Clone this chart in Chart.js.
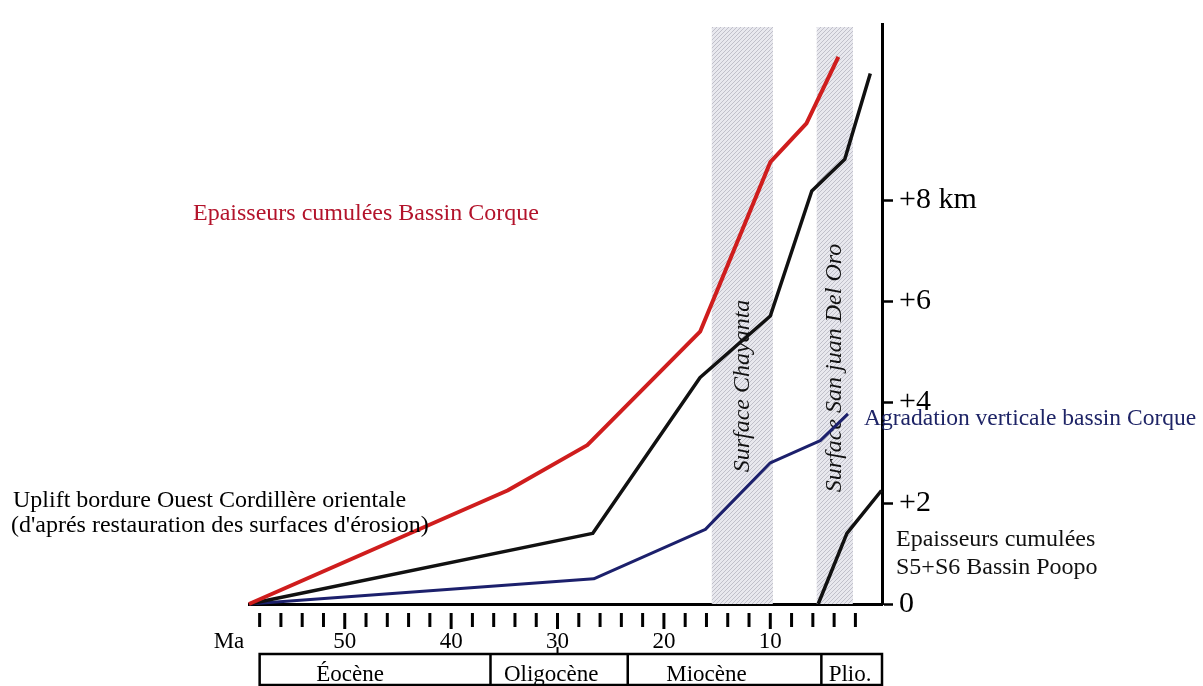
<!DOCTYPE html>
<html>
<head>
<meta charset="utf-8">
<script src="https://cdn.jsdelivr.net/npm/chart.js@4.4.0/dist/chart.umd.min.js"></script>
<style>
  html, body { margin: 0; padding: 0; background: #fff; }
  .chart { width: 1203px; height: 686px; position: relative; }
</style>
</head>
<body>
<div class="chart"><canvas id="myChart"></canvas></div>
<script>
// age in Ma (x axis, reversed) / km (y axis)
const corqueAges = [59, 34.7, 27.2, 16.6, 10.0, 6.6, 3.6];
const corqueKm = [0, 2.25, 3.15, 5.4, 8.76, 9.53, 10.85];

const upliftAges = [59, 26.7, 16.6, 10.0, 6.1, 3.0, 0.6];
const upliftKm = [0, 1.4, 4.49, 5.71, 8.19, 8.82, 10.52];

const agradAges = [59, 26.6, 16.1, 10.0, 5.3, 2.7];
const agradKm = [0, 0.5, 1.48, 2.8, 3.24, 3.77];

const poopoAges = [5.5, 2.8, -0.45];
const poopoKm = [0, 1.4, 2.25];

const xTicks = [58, 56, 54, 52, 50, 48, 46, 44, 42, 40, 38, 36, 34, 32, 30, 28, 26, 24, 22, 20, 18, 16, 14, 12, 10, 8, 6, 4, 2];
const xLabels = [50, 40, 30, 20, 10];
const yTicks = [0, 2, 4, 6, 8];
const yTickLabels = ["0", "+2", "+4", "+6", "+8 km"];

const epochs = ["Éocène", "Oligocène", "Miocène", "Plio."];
const epochBounds = [58, 36.3, 23.4, 5.2, -0.5];
const epochLabelAt = [49.5, 30.6, 16, 2.5];

const surfaces = ["Surface Chayanta", "Surface San juan Del Oro"];
const surfaceRanges = [[15.5, 9.75], [5.64, 2.23]];
const surfaceLabelY = [386, 368];

const serif = "'Liberation Serif', 'Times New Roman', serif";

function toPoints(ages, km) {
  return ages.map((a, i) => ({ x: a, y: km[i] }));
}

function hatch() {
  const c = document.createElement("canvas");
  c.width = 4;
  c.height = 4;
  const g = c.getContext("2d");
  g.fillStyle = "#e8e8ee";
  g.fillRect(0, 0, 4, 4);
  g.strokeStyle = "rgba(165,165,178,0.6)";
  g.lineWidth = 1;
  g.beginPath();
  g.moveTo(0, 4);
  g.lineTo(4, 0);
  g.stroke();
  return c;
}

const extras = {
  id: "extras",
  beforeDatasetsDraw(chart) {
    const ctx = chart.ctx;
    const x = chart.scales.x;
    const area = chart.chartArea;
    ctx.save();
    ctx.fillStyle = ctx.createPattern(hatch(), "repeat");
    surfaceRanges.forEach((r) => {
      const x1 = x.getPixelForValue(r[0]);
      const x2 = x.getPixelForValue(r[1]);
      ctx.fillRect(x1, area.top + 3, x2 - x1, area.bottom - area.top - 3);
    });
    ctx.fillStyle = "#111";
    ctx.font = "italic 24px " + serif;
    ctx.textAlign = "center";
    ctx.textBaseline = "middle";
    surfaces.forEach((s, i) => {
      const cx = (x.getPixelForValue(surfaceRanges[i][0]) + x.getPixelForValue(surfaceRanges[i][1])) / 2;
      ctx.save();
      ctx.translate(cx, surfaceLabelY[i]);
      ctx.rotate(-Math.PI / 2);
      ctx.fillText(s, 0, 0);
      ctx.restore();
    });
    ctx.restore();
  },
  afterDraw(chart) {
    const ctx = chart.ctx;
    const x = chart.scales.x;
    const area = chart.chartArea;
    ctx.save();

    // x tick marks, detached from the axis line
    ctx.strokeStyle = "#000";
    ctx.lineWidth = 3;
    xTicks.forEach((v) => {
      const px = x.getPixelForValue(v);
      ctx.beginPath();
      ctx.moveTo(px, area.bottom + 9);
      ctx.lineTo(px, area.bottom + (v % 10 === 0 ? 25 : 23));
      ctx.stroke();
    });

    ctx.fillStyle = "#000";
    ctx.font = "23px " + serif;
    ctx.textAlign = "center";
    ctx.textBaseline = "alphabetic";
    ctx.fillText("Ma", 229, 648);

    // epoch bar
    const top = 654;
    const bottom = 685;
    ctx.lineWidth = 2.5;
    const left = x.getPixelForValue(epochBounds[0]);
    const right = x.getPixelForValue(epochBounds[epochBounds.length - 1]);
    ctx.strokeRect(left, top, right - left, bottom - top);
    epochBounds.slice(1, -1).forEach((b) => {
      const px = x.getPixelForValue(b);
      ctx.beginPath();
      ctx.moveTo(px, top);
      ctx.lineTo(px, bottom);
      ctx.stroke();
    });
    ctx.lineWidth = 2;
    ctx.beginPath();
    ctx.moveTo(x.getPixelForValue(30), 647);
    ctx.lineTo(x.getPixelForValue(30), top);
    ctx.stroke();
    epochs.forEach((e, i) => {
      ctx.fillText(e, x.getPixelForValue(epochLabelAt[i]), 681);
    });

    // curve labels
    ctx.textAlign = "left";
    ctx.font = "24px " + serif;
    ctx.fillStyle = "#b3132b";
    ctx.fillText("Epaisseurs cumulées Bassin Corque", 193, 220);
    ctx.fillStyle = "#000";
    ctx.fillText("Uplift bordure Ouest Cordillère orientale", 13, 507);
    ctx.fillText("(d'aprés restauration des surfaces d'érosion)", 11, 532);
    ctx.fillStyle = "#111";
    ctx.fillText("Epaisseurs cumulées", 896, 546);
    ctx.fillText("S5+S6 Bassin Poopo", 896, 574);
    ctx.font = "23.5px " + serif;
    ctx.fillStyle = "#1e2466";
    ctx.fillText("Agradation verticale bassin Corque", 864, 425);
    ctx.restore();
  },
};

const ctx = document.getElementById("myChart");
const myChart = new Chart(ctx, {
  type: "scatter",
  data: {
    datasets: [
      {
        label: "Epaisseurs cumulées Bassin Corque",
        data: toPoints(corqueAges, corqueKm),
        borderColor: "#cf1d1d",
        borderWidth: 4,
      },
      {
        label: "Uplift bordure Ouest Cordillère orientale",
        data: toPoints(upliftAges, upliftKm),
        borderColor: "#111111",
        borderWidth: 3.5,
      },
      {
        label: "Agradation verticale bassin Corque",
        data: toPoints(agradAges, agradKm),
        borderColor: "#1c206c",
        borderWidth: 3,
      },
      {
        label: "Epaisseurs cumulées S5+S6 Bassin Poopo",
        data: toPoints(poopoAges, poopoKm),
        borderColor: "#111111",
        borderWidth: 3.5,
      },
    ].map((d) => ({
      ...d,
      showLine: true,
      pointRadius: 0,
      tension: 0,
      borderJoinStyle: "round",
      clip: 5,
    })),
  },
  options: {
    responsive: true,
    maintainAspectRatio: false,
    animation: false,
    layout: { padding: { left: 249, top: 12, right: 0, bottom: 0 } },
    plugins: { legend: { display: false }, tooltip: { enabled: false } },
    scales: {
      x: {
        type: "linear",
        reverse: true,
        min: -0.5,
        max: 59,
        afterBuildTicks: (s) => {
          s.ticks = xTicks.map((v) => ({ value: v }));
        },
        afterFit: (s) => {
          s.height = 82;
        },
        ticks: {
          autoSkip: false,
          maxRotation: 0,
          padding: 0,
          color: "#000",
          font: { family: serif, size: 23 },
          callback: (v) => (xLabels.includes(v) ? String(v) : ""),
        },
        grid: { drawOnChartArea: false, tickLength: 24, tickColor: "rgba(0,0,0,0)" },
        border: { display: true, color: "#000", width: 3 },
      },
      y: {
        position: "right",
        min: 0,
        max: 11.5,
        afterBuildTicks: (s) => {
          s.ticks = yTicks.map((v) => ({ value: v }));
        },
        afterFit: (s) => {
          s.width = 321;
        },
        ticks: {
          padding: 6,
          color: "#000",
          font: { family: serif, size: 30 },
          callback: (v) => yTickLabels[yTicks.indexOf(v)],
        },
        grid: { drawOnChartArea: false, tickLength: 11, tickWidth: 2.5, tickColor: "#000" },
        border: { display: true, color: "#000", width: 3 },
      },
    },
  },
  plugins: [extras],
});
</script>
</body>
</html>
